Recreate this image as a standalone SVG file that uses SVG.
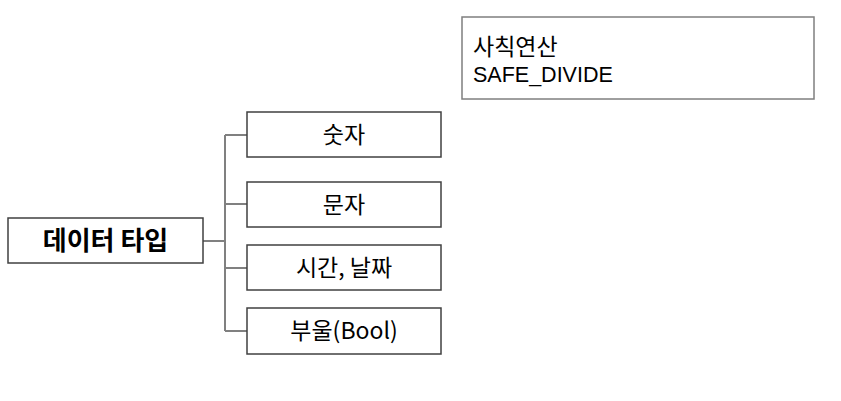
<svg xmlns="http://www.w3.org/2000/svg" width="841" height="401" viewBox="0 0 841 401">
<style>
.box{fill:#fff;stroke:#404040;stroke-width:1.5}
.note{fill:#fff;stroke:#7f7f7f;stroke-width:1.5}
.t{font-family:"Noto Sans CJK KR","Noto Sans",sans-serif;font-size:23px;fill:#000}
.l{font-family:"Liberation Sans",sans-serif;font-size:21.5px;fill:#000}
.c{text-anchor:middle}
.b{font-weight:bold;font-size:26px}
.conn{fill:none;stroke:#808080;stroke-width:2}
</style>
<rect width="841" height="401" fill="#fff"/>
<g id="connectors">
<path class="conn" d="M203,241 H225 M225,135 V331 M225,135 H247 M225,204 H247 M225,268 H247 M225,331 H247"/>
</g>
<g id="note">
<rect class="note" x="462" y="17" width="352" height="82"/>
<text class="t" x="473" y="55">사칙연산</text>
<text class="l" x="473" y="82">SAFE_DIVIDE</text>
</g>
<g id="root">
<rect class="box" x="8" y="218" width="195" height="45"/>
<text class="t c b" x="105.500" y="250">데이터 타입</text>
</g>
<g id="n1">
<rect class="box" x="247" y="112" width="194" height="45"/>
<text class="t c" x="344" y="143">숫자</text>
</g>
<g id="n2">
<rect class="box" x="247" y="182" width="194" height="45"/>
<text class="t c" x="344" y="213">문자</text>
</g>
<g id="n3">
<rect class="box" x="247" y="245" width="194" height="45"/>
<text class="t c" x="344" y="276">시간, 날짜</text>
</g>
<g id="n4">
<rect class="box" x="247" y="308" width="194" height="46"/>
<text class="t c" x="344" y="339">부울(Bool)</text>
</g>
</svg>
